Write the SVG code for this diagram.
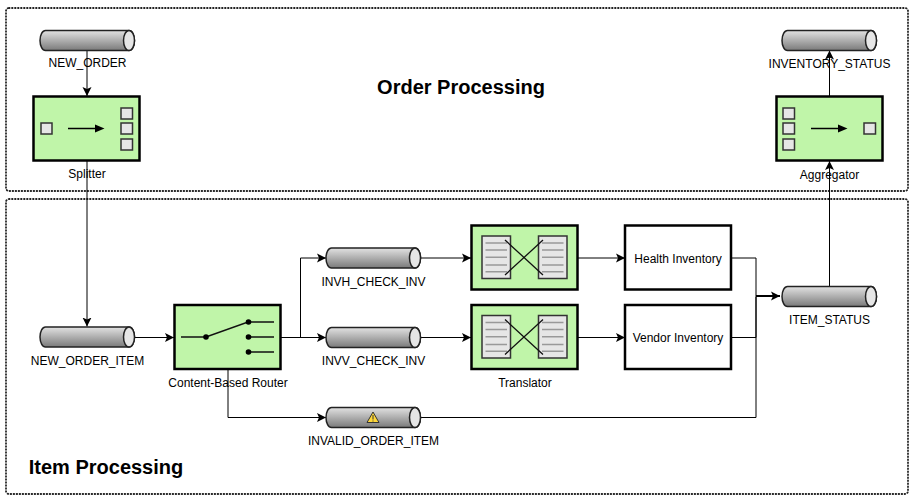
<svg xmlns="http://www.w3.org/2000/svg" width="913" height="501" viewBox="0 0 913 501">
<style>
text{font-family:"Liberation Sans",Arial,sans-serif;font-size:12px;fill:#000;text-anchor:middle}
.title{font-size:20px;font-weight:bold}
.zone{fill:none;stroke:#222;stroke-width:1.8;stroke-dasharray:0.6 2.4;stroke-linecap:round}
.c{fill:none;stroke:#000;stroke-width:1;marker-end:url(#arr)}
.n{fill:none;stroke:#000;stroke-width:1}
.box{fill:#c0f5a9;stroke:#000;stroke-width:2.5}
.wbox{fill:#fff;stroke:#000;stroke-width:2.5}
.sq{fill:#e6e6e6;stroke:#333;stroke-width:1.5}
.x{fill:none;stroke:#111;stroke-width:1.3}
.rl{fill:none;stroke:#999;stroke-width:1.5}
</style>
<defs>
<linearGradient id="pg" x1="0" y1="0" x2="0" y2="1"><stop offset="0" stop-color="#e2e2e2"/><stop offset="1" stop-color="#7a7a7a"/></linearGradient>
<marker id="arr" markerUnits="userSpaceOnUse" markerWidth="12" markerHeight="12" refX="9" refY="5" orient="auto"><path d="M0,0.5 L9,5 L0,9.5 L2,5 Z" fill="#000"/></marker>
<g id="pipe"><path d="M5.500,0.500 H89 A5.500,10 0 0 1 89,20.500 H5.500 A5.500,10 0 0 1 5.500,0.500 Z" fill="url(#pg)" stroke="#222" stroke-width="1.500"/><ellipse cx="89" cy="10.500" rx="5.500" ry="10" fill="#e6e6e6" stroke="#222" stroke-width="1.500"/></g>
<g id="doc"><rect x="0" y="0" width="28.500" height="42.500" class="sq"/><path class="rl" d="M3.500,7H25M3.500,14H25M3.500,21.300H25M3.500,29H25M3.500,35.700H25"/></g>
<g id="trans"><rect x="0.500" y="0.500" width="106" height="64" class="box"/><use href="#doc" x="11" y="11"/><use href="#doc" x="67.500" y="11"/><path class="x" d="M34,15L72,50M72,15L34,50"/></g>
</defs>
<rect x="6" y="8" width="902" height="183" rx="3" class="zone"/>
<rect x="6" y="199" width="902" height="295" rx="3" class="zone"/>
<text class="title" x="461" y="94">Order Processing</text>
<text class="title" x="106" y="474">Item Processing</text>
<g id="connectors">
<path class="c" d="M87,50V96"/>
<path class="c" d="M87,161V326.500"/>
<path class="c" d="M135,337.500H174"/>
<path class="c" d="M281,337.500H326"/>
<path class="c" d="M281,337.500H300.500V258H326"/>
<path class="c" d="M228,369V417.500H326"/>
<path class="c" d="M421,258H471"/>
<path class="c" d="M421,337.500H471"/>
<path class="c" d="M578,258H625"/>
<path class="c" d="M578,337.500H625"/>
<path class="n" d="M731,258H756V297"/>
<path class="n" d="M731,337.500H756V297"/>
<path class="n" d="M421,417.500H756V297"/>
<path class="c" style="stroke-width:2" d="M756,296H780"/>
<path class="c" d="M829.500,286V161"/>
<path class="c" d="M829.500,96V50.500"/>
</g>
<g id="new-order"><use href="#pipe" x="40" y="30"/><text x="87.500" y="67">NEW_ORDER</text></g>
<g id="splitter"><rect x="33.500" y="96.500" width="106" height="64" class="box"/><rect x="41" y="123" width="11" height="11" class="sq"/><rect x="121" y="108" width="11.500" height="11" class="sq"/><rect x="121" y="123" width="11.500" height="11" class="sq"/><rect x="121" y="139" width="11.500" height="11" class="sq"/><path d="M68,128.500H96" stroke="#000" stroke-width="1.500"/><path d="M95,124.500L104.500,128.500L95,132.500Z" fill="#000"/><text x="87" y="178">Splitter</text></g>
<g id="inventory-status"><use href="#pipe" x="782" y="30"/><text x="829.500" y="68">INVENTORY_STATUS</text></g>
<g id="aggregator"><rect x="776.500" y="96.500" width="106" height="64" class="box"/><rect x="783" y="108" width="11.500" height="11" class="sq"/><rect x="783" y="123" width="11.500" height="11" class="sq"/><rect x="783" y="139" width="11.500" height="11" class="sq"/><rect x="864" y="123" width="11.500" height="11" class="sq"/><path d="M811,128.500H839" stroke="#000" stroke-width="1.500"/><path d="M838,124.500L847.500,128.500L838,132.500Z" fill="#000"/><text x="829.500" y="179">Aggregator</text></g>
<g id="new-order-item"><use href="#pipe" x="40" y="326.500"/><text x="87.500" y="365">NEW_ORDER_ITEM</text></g>
<g id="router"><rect x="174.500" y="305" width="106" height="64" class="box"/><path d="M181,337H206L248,322H274M248,337H274M248,352H274" fill="none" stroke="#111" stroke-width="1.500"/><circle cx="206" cy="337" r="2.800"/><circle cx="248.500" cy="322" r="2.800"/><circle cx="248.500" cy="337" r="2.800"/><circle cx="248.500" cy="352" r="2.800"/><text x="228" y="387">Content-Based Router</text></g>
<g id="invh"><use href="#pipe" x="326" y="247.500"/><text x="373.500" y="286">INVH_CHECK_INV</text></g>
<g id="invv"><use href="#pipe" x="326" y="327"/><text x="373.500" y="365">INVV_CHECK_INV</text></g>
<g id="invalid"><use href="#pipe" x="326" y="407"/><path d="M373,412L379,422.500H367Z" fill="#ffd83a" stroke="#333" stroke-width="1"/><path d="M373,415V419.500M373,420.500V421.500" stroke="#333" stroke-width="1"/><text x="373.500" y="445">INVALID_ORDER_ITEM</text></g>
<g id="translator-1"><use href="#trans" x="471" y="225"/></g>
<g id="translator-2"><use href="#trans" x="471" y="304.500"/><text x="525" y="387">Translator</text></g>
<g id="health"><rect x="625" y="225.500" width="106" height="64" class="wbox"/><text x="678" y="263">Health Inventory</text></g>
<g id="vendor"><rect x="625" y="305" width="106" height="64" class="wbox"/><text x="678" y="342">Vendor Inventory</text></g>
<g id="item-status"><use href="#pipe" x="782" y="286"/><text x="829.500" y="324">ITEM_STATUS</text></g>
</svg>
